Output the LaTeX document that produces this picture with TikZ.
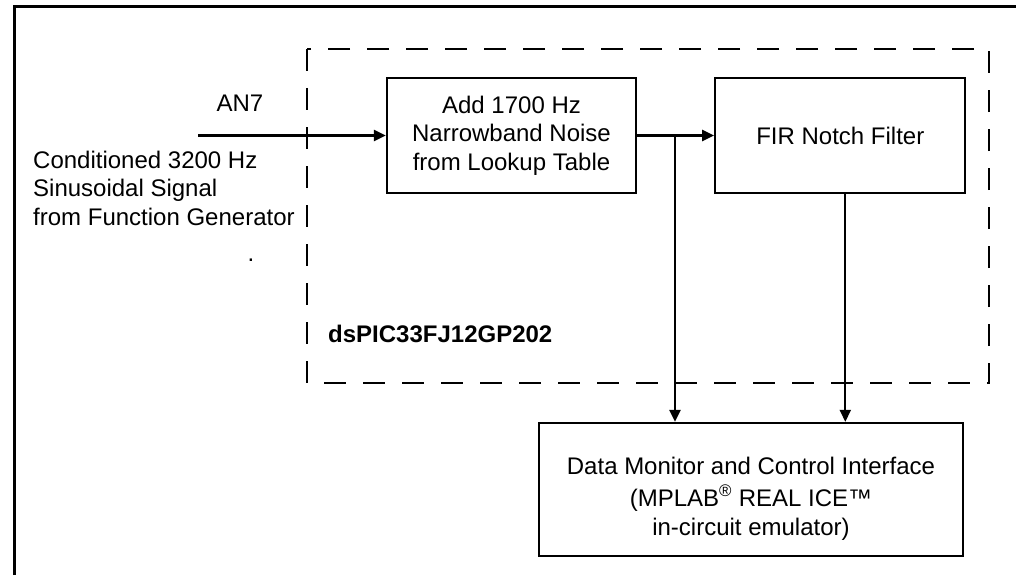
\documentclass[tikz,border=0pt]{standalone}
\usepackage{fontspec}
\setmainfont{Liberation Sans}
\usetikzlibrary{positioning, arrows.meta}
\tikzset{
    block/.style={rectangle, minimum width=250pt, minimum height=115pt, text centered, align=center, draw=black, line width=2.3pt},
    free_text/.style={inner sep=0pt, align=left},
    arrow/.style={line width=2.3pt, -{Triangle[length=12pt, width=11pt]}},
    frame/.style={line width=3pt},
    chip/.style={line width=2.3pt, dash pattern=on 22pt off 17pt},
}

\begin{document}
\begin{tikzpicture}[x=1pt, y=-1pt, font=\fontsize{24}{28.5}\selectfont]
    \useasboundingbox (0,0) rectangle (1016,575);
    %%%%%%%%%%%%%
    % FRAME     %
    %%%%%%%%%%%%%
    \draw[frame] (14,575) -- (14,7) -- (1016,7);
    \draw[chip] (307,49) rectangle (989,383);
    \node (chipname) [free_text, anchor=base west, font=\fontsize{24}{28.5}\selectfont\bfseries] at (328,342)
        {dsPIC33FJ12GP202};

    %%%%%%%%%%%%%
    % BLOCKS    %
    %%%%%%%%%%%%%
    \node (addnoise) [block, minimum width=249pt] at (511.5,135.5)
        {Add 1700 Hz\\Narrowband Noise\\from Lookup Table};
    \node (fir) [block, right = 77pt of addnoise]
        {FIR Notch Filter};
    \node (monitor) [block, minimum width=424pt, minimum height=133pt] at (751,489.5)
        {\rule{0pt}{36pt}Data Monitor and Control Interface\\[3pt]
         (MPLAB\textsuperscript{®} REAL ICE™\\[1pt]
         in-circuit emulator)};

    %%%%%%%%%%%%%
    % INPUT     %
    %%%%%%%%%%%%%
    \coordinate (input) at (198,135.5);
    \node (an7) [free_text, anchor=base] at (240,111)
        {AN7};
    \node (source) [free_text, anchor=base west] at (33,225)
        {Conditioned 3200 Hz\\Sinusoidal Signal\\from Function Generator};
    \node (dot) [free_text, anchor=base] at (251,261)
        {.};

    %%%%%%%%%%%%%
    % SIGNALS   %
    %%%%%%%%%%%%%
    \coordinate (split) at (675,135.5);
    \coordinate (firout) at ([xshift=5pt]fir.south);
    \draw[arrow] (input) -- (addnoise);
    \draw[arrow] (addnoise) -- (fir);
    \draw[arrow] (split) -- (split |- monitor.north);
    \draw[arrow] (firout) -- (firout |- monitor.north);
\end{tikzpicture}
\end{document}
